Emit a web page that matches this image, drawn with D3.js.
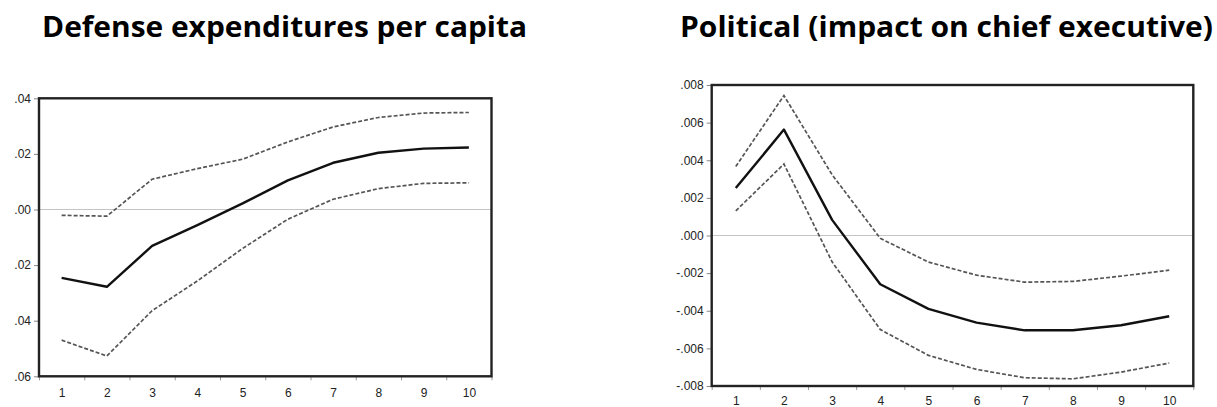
<!DOCTYPE html>
<html>
<head>
<meta charset="utf-8">
<script src="https://cdn.jsdelivr.net/npm/d3@7"></script>
<style>
  html, body { margin: 0; padding: 0; background: #fff; }
  svg { display: block; }
</style>
</head>
<body>
<svg id="chart" width="1217" height="407"></svg>
<script>
// ---- Data ----
const periods = [1, 2, 3, 4, 5, 6, 7, 8, 9, 10];

const defenseTitle = "Defense expenditures per capita";
const defenseResponse = [-0.0246, -0.0278, -0.0131, -0.0056, 0.0022, 0.0105, 0.0168, 0.0204, 0.0219, 0.0223];
const defenseUpper    = [-0.0021, -0.0024, 0.0109, 0.0147, 0.0181, 0.0243, 0.0297, 0.0331, 0.0347, 0.0349];
const defenseLower    = [-0.0470, -0.0527, -0.0364, -0.0257, -0.0140, -0.0035, 0.0037, 0.0075, 0.0094, 0.0096];
const defenseTicks      = [0.04, 0.02, 0.00, -0.02, -0.04, -0.06];
const defenseTickLabels = [".04", ".02", ".00", ".02", ".04", ".06"];

const politicalTitle = "Political (impact on chief executive)";
const politicalResponse = [0.00252, 0.00563, 0.00083, -0.00259, -0.00390, -0.00463, -0.00504, -0.00504, -0.00477, -0.00429];
const politicalUpper    = [0.00367, 0.00744, 0.00323, -0.00015, -0.00141, -0.00211, -0.00248, -0.00244, -0.00216, -0.00184];
const politicalLower    = [0.00131, 0.00380, -0.00140, -0.00500, -0.00637, -0.00712, -0.00756, -0.00762, -0.00726, -0.00678];
const politicalTicks      = [0.008, 0.006, 0.004, 0.002, 0.000, -0.002, -0.004, -0.006, -0.008];
const politicalTickLabels = [".008", ".006", ".004", ".002", ".000", "-.002", "-.004", "-.006", "-.008"];

const xLabels = periods.map(String);

// ---- Drawing ----
const svg = d3.select("#chart");

function styleLabels(sel) {
  sel.attr("font-family", "'Liberation Sans', Arial, sans-serif")
    .attr("font-size", 12)
    .attr("font-weight", 400)
    .attr("fill", "#222");
}

function drawPanel(cfg) {
  const g = svg.append("g");
  const x = d3.scaleLinear().domain([0.5, 10.5]).range([cfg.left, cfg.right]);
  const y = d3.scaleLinear().domain([cfg.yMin, cfg.yMax]).range([cfg.bottom, cfg.top]);

  // title
  g.append("text")
    .attr("x", cfg.titleX)
    .attr("y", 37)
    .attr("font-family", "'Open Sans', sans-serif")
    .attr("font-weight", 700)
    .attr("font-size", 28)
    .attr("fill", "#000")
    .attr("textLength", cfg.titleW)
    .attr("lengthAdjust", "spacingAndGlyphs")
    .text(cfg.title);

  // zero line
  g.append("line")
    .attr("x1", cfg.left).attr("x2", cfg.right)
    .attr("y1", y(0)).attr("y2", y(0))
    .attr("stroke", "#c4c4c4").attr("stroke-width", 1.2);

  // y axis
  const yAxis = d3.axisLeft(y)
    .tickValues(cfg.ticks)
    .tickFormat((d, i) => cfg.tickLabels[i])
    .tickSize(5)
    .tickPadding(3);
  const ya = g.append("g").attr("transform", `translate(${cfg.left},0)`).call(yAxis);
  ya.select(".domain").remove();
  ya.selectAll(".tick line").attr("stroke", "#888");
  styleLabels(ya.selectAll(".tick text"));

  // x axis: minor ticks at category boundaries
  const bounds = periods.map(p => p - 0.5).concat([periods[periods.length - 1] + 0.5]);
  const xTickAxis = d3.axisBottom(x).tickValues(bounds).tickFormat("").tickSize(4);
  const xt = g.append("g").attr("transform", `translate(0,${cfg.bottom})`).call(xTickAxis);
  xt.select(".domain").remove();
  xt.selectAll(".tick line").attr("stroke", "#999");

  const xLabAxis = d3.axisBottom(x).tickValues(periods).tickFormat((d, i) => xLabels[i]).tickSize(0).tickPadding(cfg.xPad);
  const xl = g.append("g").attr("transform", `translate(0,${cfg.bottom})`).call(xLabAxis);
  xl.select(".domain").remove();
  styleLabels(xl.selectAll(".tick text"));

  const line = d3.line().x((d, i) => x(periods[i])).y(d => y(d));

  // bands
  [cfg.upper, cfg.lower].forEach(s => {
    g.append("path")
      .datum(s)
      .attr("d", line)
      .attr("fill", "none")
      .attr("stroke", "#555")
      .attr("stroke-width", 1.7)
      .attr("stroke-dasharray", "4,2");
  });
  // response
  g.append("path")
    .datum(cfg.response)
    .attr("d", line)
    .attr("fill", "none")
    .attr("stroke", "#111")
    .attr("stroke-width", 2.4)
    .attr("stroke-linejoin", "round");

  // frame
  g.append("rect")
    .attr("x", cfg.left).attr("y", cfg.top)
    .attr("width", cfg.right - cfg.left).attr("height", cfg.bottom - cfg.top)
    .attr("fill", "none").attr("stroke", "#222").attr("stroke-width", 2.4);
}

drawPanel({
  title: defenseTitle, titleX: 42, titleW: 485,
  left: 39, right: 491.5, top: 98.3, bottom: 376.3,
  yMin: -0.06, yMax: 0.04,
  ticks: defenseTicks, tickLabels: defenseTickLabels,
  response: defenseResponse, upper: defenseUpper, lower: defenseLower,
  xPad: 12
});

drawPanel({
  title: politicalTitle, titleX: 680, titleW: 533,
  left: 711.7, right: 1193.3, top: 85, bottom: 386,
  yMin: -0.008, yMax: 0.008,
  ticks: politicalTicks, tickLabels: politicalTickLabels,
  response: politicalResponse, upper: politicalUpper, lower: politicalLower,
  xPad: 10
});
</script>
</body>
</html>
